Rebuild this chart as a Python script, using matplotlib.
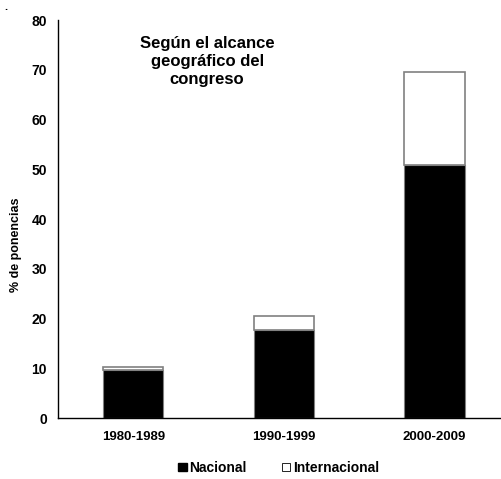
import numpy as np
import matplotlib.pyplot as plt
import matplotlib.patches as mpatches

plt.rcParams['font.family'] = ['Liberation Sans', 'DejaVu Sans']

# Datos
periodos = ['1980-1989', '1990-1999', '2000-2009']
nacional = [9.7, 17.6, 50.8]
internacional = [0.5, 2.9, 18.7]

fig = plt.figure(figsize=(5.02, 4.79), dpi=100)
ax = fig.add_axes([0.1155, 0.1273, 0.9, 0.8307])

x = np.arange(len(periodos))
ax.bar(x, nacional, width=0.4, color='black', edgecolor='#808080', linewidth=0.8)
ax.bar(x, internacional, width=0.4, bottom=nacional, color='white',
       edgecolor='#808080', linewidth=1.2)

ax.set_xlim(-0.5, 2.5)
ax.set_ylim(0, 80)
ax.set_yticks(range(0, 81, 10))
ax.set_xticks(x)
ax.set_xticklabels(periodos, fontsize=9.5, fontweight='bold')
for lbl in ax.get_yticklabels():
    lbl.set_fontsize(10)
    lbl.set_fontweight('bold')
ax.tick_params(axis='both', length=0)
ax.tick_params(axis='x', pad=9)
ax.tick_params(axis='y', pad=8)

for s in ['top', 'right']:
    ax.spines[s].set_visible(False)
for s in ['left', 'bottom']:
    ax.spines[s].set_linewidth(1.0)

ax.set_ylabel('% de ponencias', fontsize=9, fontweight='bold')
ax.yaxis.set_label_coords(-0.08, 0.435)

ax.text(0.49, 76.8, 'Según el alcance\ngeográfico del\ncongreso', ha='center',
        va='top', fontsize=12, fontweight='bold', linespacing=1.25)

fig.text(0.008, 0.995, '.', fontsize=8, fontweight='bold', va='top')

handles = [mpatches.Patch(facecolor='black', edgecolor='black', label='Nacional'),
           mpatches.Patch(facecolor='white', edgecolor='black', linewidth=0.6,
                          label='Internacional')]
fig.legend(handles=handles, loc='center', bbox_to_anchor=(0.555, 0.023), ncol=2,
           frameon=False, prop={'size': 10, 'weight': 'bold'}, handlelength=0.6,
           handleheight=0.6, handletextpad=0.2, columnspacing=2.5)

fig.savefig('out.png', dpi=100)
